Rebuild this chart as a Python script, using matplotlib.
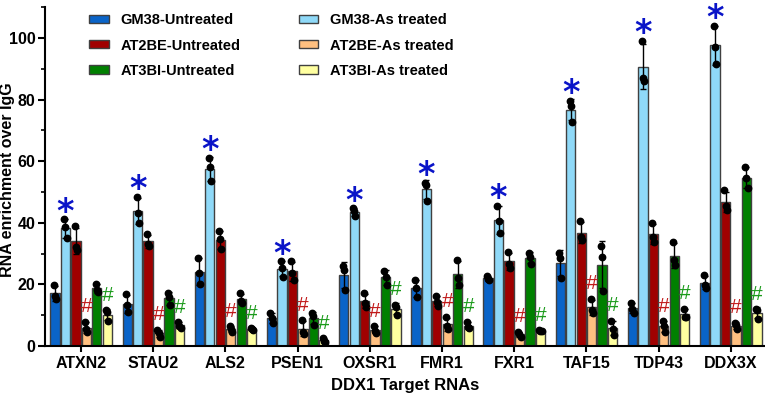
import numpy as np
import matplotlib.pyplot as plt
from matplotlib.ticker import MultipleLocator

plt.rcParams['font.family'] = ['Liberation Sans', 'DejaVu Sans']
plt.rcParams['font.weight'] = 'bold'

genes = ['ATXN2', 'STAU2', 'ALS2', 'PSEN1', 'OXSR1', 'FMR1', 'FXR1', 'TAF15', 'TDP43', 'DDX3X']

series_names = ['GM38-Untreated', 'GM38-As treated', 'AT2BE-Untreated',
                'AT2BE-As treated', 'AT3BI-Untreated', 'AT3BI-As treated']
colors = ['#0a64c8', '#8fd9f8', '#a00000', '#ffc080', '#008000', '#ffffa0']

# replicate values (3 per gene)
gm38_untr = [[19.8, 16.3, 15.3], [16.8, 13.2, 11.0], [28.7, 23.6, 20.1], [10.8, 9.0, 7.6],
             [26.0, 24.7, 18.2], [21.6, 18.7, 16.0], [22.9, 21.9, 21.4], [30.1, 28.5, 22.2],
             [13.9, 12.2, 10.9], [23.1, 19.8, 19.0]]
gm38_as = [[41.1, 38.5, 35.0], [48.5, 43.1, 40.0], [61.1, 58.1, 53.5], [27.5, 25.5, 22.5],
           [44.7, 43.9, 42.2], [53.0, 52.3, 47.2], [45.5, 40.7, 36.6], [79.6, 77.9, 72.8],
           [99.1, 87.1, 86.0], [104.0, 97.2, 91.5]]
at2be_untr = [[39.0, 32.0, 31.2], [36.3, 33.0, 32.6], [37.2, 34.7, 31.5], [27.7, 23.6, 21.4],
              [17.3, 13.9, 12.8], [16.2, 14.4, 13.0], [30.5, 26.8, 25.2], [40.6, 35.3, 34.4],
              [39.8, 35.5, 33.7], [50.6, 45.5, 44.2]]
at2be_as = [[7.9, 5.5, 4.6], [5.3, 4.1, 3.0], [6.5, 5.5, 4.6], [8.4, 4.6, 3.9],
            [6.5, 5.0, 4.4], [9.5, 6.5, 5.4], [4.6, 3.9, 3.0], [15.4, 11.7, 10.8],
            [8.1, 6.6, 4.6], [7.6, 6.8, 5.4]]
at3bi_untr = [[20.3, 18.3, 17.6], [17.3, 16.0, 13.2], [17.1, 14.6, 14.1], [10.6, 9.7, 6.8],
              [24.5, 22.5, 19.8], [28.1, 22.0, 19.8], [30.3, 28.8, 26.8], [32.5, 28.8, 18.0],
              [33.9, 27.9, 26.3], [58.2, 54.4, 51.4]]
at3bi_as = [[11.6, 11.0, 8.1], [7.8, 6.6, 5.9], [5.8, 5.5, 5.3], [2.6, 1.8, 1.2],
            [13.5, 12.8, 10.1], [7.9, 6.2, 5.9], [5.2, 5.0, 4.8], [8.2, 5.7, 3.6],
            [12.2, 9.5, 9.5], [11.9, 11.7, 8.7]]

all_series = [gm38_untr, gm38_as, at2be_untr, at2be_as, at3bi_untr, at3bi_as]

fig = plt.figure(figsize=(7.65, 3.96), dpi=100)
ax = fig.add_axes([0.059, 0.126, 0.941, 0.856])

x = np.arange(len(genes))
pitch = 0.145
width = 0.128
jit = np.array([-0.12, 0.0, 0.12]) * width

handles = []
for k, (name, col, data) in enumerate(zip(series_names, colors, all_series)):
    arr = np.array(data)
    means = arr.mean(axis=1)
    sds = arr.std(axis=1, ddof=1)
    xs = x + (k - 2.5) * pitch
    b = ax.bar(xs, means, width, color=col, edgecolor='#404040', linewidth=1.0,
               label=name, zorder=2)
    handles.append(b)
    ax.errorbar(xs, means, yerr=sds, fmt='none', ecolor='black', elinewidth=1.0,
                capsize=2.2, capthick=1.0, zorder=3)
    for j in range(3):
        ax.plot(xs + jit[j], arr[:, j], 'o', color='black', markersize=4.6, zorder=4)

    # significance marks above the replicate points
    top = arr.max(axis=1)
    if k == 1:
        for xi, t in zip(xs, top):
            ax.text(xi, t - 3.0, '*', color='#0a14c8', fontsize=24, ha='center',
                    va='bottom', family='DejaVu Sans', fontweight='bold', zorder=5)
    elif k == 3:
        for xi, t in zip(xs, top):
            ax.text(xi, t + 1.8, '#', color='#c01818', fontsize=15, ha='center',
                    va='bottom', fontweight='normal', zorder=5)
    elif k == 5:
        for xi, t in zip(xs, top):
            ax.text(xi, t + 1.8, '#', color='#1a9a1a', fontsize=15, ha='center',
                    va='bottom', fontweight='normal', zorder=5)

ax.set_xlim(-0.4986, 9.474)
ax.set_ylim(0, 110)
ax.set_yticks([0, 20, 40, 60, 80, 100])
ax.yaxis.set_minor_locator(MultipleLocator(10))
ax.set_xticks(x)
ax.set_xticklabels(genes, fontsize=11.5, fontweight='bold')
ax.tick_params(axis='y', which='major', labelsize=11.5, width=1.5, length=5, pad=2)
ax.tick_params(axis='y', which='minor', width=1.2, length=3)
ax.tick_params(axis='x', width=1.5, length=4, pad=3)
for lab in ax.get_yticklabels():
    lab.set_fontweight('bold')

ax.spines['top'].set_visible(False)
ax.spines['right'].set_visible(False)
ax.spines['left'].set_linewidth(1.5)
ax.spines['bottom'].set_linewidth(1.5)

ax.set_ylabel('RNA enrichment over IgG', fontsize=11.5, fontweight='bold')
ax.yaxis.set_label_coords(-0.0425, 0.49)
ax.set_xlabel('DDX1 Target RNAs', fontsize=12, fontweight='bold', labelpad=5)

order = [0, 2, 4, 1, 3, 5]
ax.legend([handles[i] for i in order], [series_names[i] for i in order],
          ncol=2, loc='upper left', bbox_to_anchor=(0.057, 0.99), frameon=False,
          fontsize=10.5, handlelength=1.35, handleheight=0.5, labelspacing=0.76,
          columnspacing=4.0, handletextpad=0.8, borderaxespad=0, borderpad=0.2)

fig.savefig('out.png', dpi=100)
